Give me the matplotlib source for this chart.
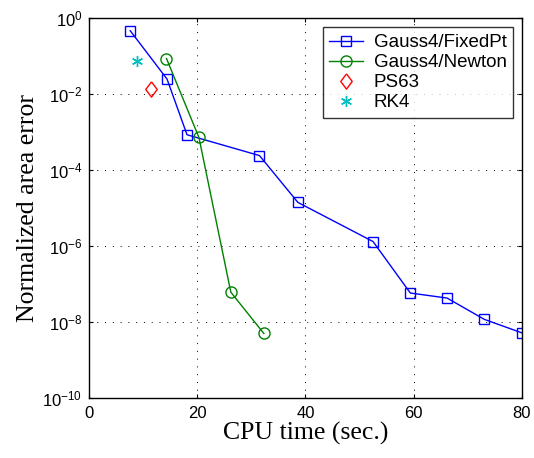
import numpy as np
import matplotlib.pyplot as plt

# CPU time (s) vs normalized area error for each integrator
fixedpt_t = [7.6, 14.4, 18.1, 31.5, 38.6, 52.5, 59.4, 66.2, 73.1, 80.0]
fixedpt_err = [0.47, 0.025, 8.5e-4, 2.4e-4, 1.4e-5, 1.3e-6, 5.7e-8, 4.2e-8, 1.15e-8, 5.1e-9]

newton_t = [14.3, 20.3, 26.2, 32.3]
newton_err = [0.087, 7.2e-4, 6.0e-8, 4.9e-9]

ps63_t = [11.5]
ps63_err = [0.0135]

rk4_t = [8.8]
rk4_err = [0.073]

xticks = [0, 20, 40, 60, 80]
yticks = [1e0, 1e-2, 1e-4, 1e-6, 1e-8, 1e-10]

plt.rcParams['font.family'] = ['Liberation Sans', 'DejaVu Sans']
plt.rcParams['mathtext.fontset'] = 'custom'
plt.rcParams['mathtext.rm'] = 'Liberation Sans'
plt.rcParams['mathtext.it'] = 'Liberation Sans'

# slightly narrow diamond, like matlab's 'd'
diamond = [(0, 1), (0.75, 0), (0, -1), (-0.75, 0), (0, 1)]

fig = plt.figure(figsize=(5.34, 4.58), dpi=100)
ax = fig.add_axes([0.167, 0.132, 0.810, 0.828])

ax.semilogy(fixedpt_t, fixedpt_err, color='#0000ff', lw=1.0, marker='s', ms=7,
            mfc='none', mec='#0000ff', mew=1.0, label='Gauss4/FixedPt')
ax.semilogy(newton_t, newton_err, color='#008000', lw=1.0, marker='o', ms=8,
            mfc='none', mec='#008000', mew=1.0, label='Gauss4/Newton')
ax.semilogy(ps63_t, ps63_err, ls='none', marker=diamond, ms=11,
            mfc='none', mec='#ff0000', mew=1.0, label='PS63')
ax.semilogy(rk4_t, rk4_err, ls='none', marker=(6, 2, 0), ms=8,
            mec='#00bfbf', mew=1.0, label='RK4')

ax.set_xlim(0, 80)
ax.set_ylim(1e-10, 1e0)
ax.set_xticks(xticks)
ax.set_yticks(yticks)
ax.yaxis.set_minor_locator(plt.NullLocator())

ax.grid(True, which='major', color='black', linestyle=(0, (1, 7)), linewidth=0.7)
ax.tick_params(which='both', direction='in', top=True, right=True, labelsize=12,
               length=3)
ax.tick_params(axis='x', pad=6)
ax.tick_params(axis='y', pad=5)
for s in ax.spines.values():
    s.set_linewidth(1.0)

ax.set_xlabel('CPU time (sec.)', family='Liberation Serif', fontsize=18.5, labelpad=1)
ax.set_ylabel('Normalized area error', family='Liberation Serif', fontsize=18.5, labelpad=2)

leg = ax.legend(loc='upper right', fontsize=13.5, frameon=True, fancybox=False,
                edgecolor='black', handlelength=1.8, borderpad=0.35,
                labelspacing=0.16, handletextpad=0.55, borderaxespad=0,
                bbox_to_anchor=(0.980, 0.976))
leg.get_frame().set_linewidth(1.0)

fig.savefig('out.png', dpi=100)
